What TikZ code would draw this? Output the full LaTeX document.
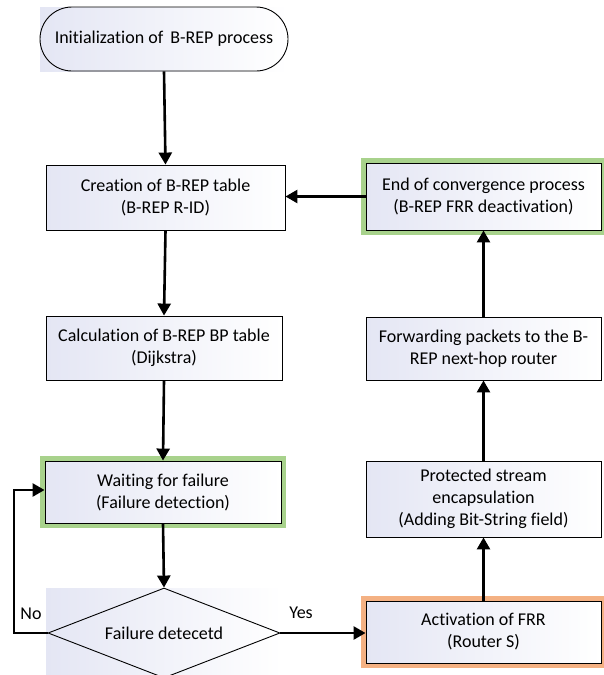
\documentclass[tikz,border=0pt]{standalone}
\usepackage{fontspec}
\setmainfont{Carlito}[Ligatures=NoCommon]
\usetikzlibrary{arrows.meta,shapes.geometric}

\definecolor{boxshade}{RGB}{228,230,244}
\definecolor{glowgreen}{RGB}{168,210,140}
\definecolor{gloworange}{RGB}{244,177,131}

\tikzset{
  txt/.style={font=\fontsize{18}{22}\selectfont, align=center, inner sep=0pt},
  outline/.style={txt, draw=black, line width=0.9pt},
  base/.style={outline, left color=boxshade, right color=white,
    minimum width=235pt, minimum height=64pt},
  greenbox/.style={base, preaction={draw=glowgreen, line width=10pt, rounded corners=3pt}},
  orangebox/.style={base, preaction={draw=gloworange, line width=10pt, rounded corners=3pt}},
  backdrop/.style={left color=boxshade, right color=white},
  flow/.style={line width=2.6pt, -{Triangle[length=12pt,width=13pt]}},
  lbl/.style={font=\fontsize{18}{22}\selectfont, inner sep=0pt}
}

\begin{document}
\begin{tikzpicture}[x=1pt, y=-1pt]
  \clip (0,0) rectangle (604,675);
  \fill[white] (0,0) rectangle (604,675);

  % start terminal: shaded backdrop, then the rounded outline
  \shade[backdrop] (40,7) rectangle (288,71);
  \node[outline, minimum width=248pt, minimum height=64pt,
        rounded corners=32pt] (start) at (164,39) {Initialization of\, B-REP process};

  \node[base, minimum width=239pt, minimum height=65pt] (create) at (165.5,197.5)
    {Creation of B-REP table\\(B-REP R-ID)};
  \node[base, minimum width=236pt] (calc) at (164,348)
    {Calculation of B-REP BP table\\(Dijkstra)};
  \node[greenbox, minimum width=236pt, minimum height=62pt] (wait) at (163,492)
    {Waiting for failure\\(Failure detection)};

  % decision: shaded backdrop, then the diamond outline
  \shade[backdrop] (46,588) rectangle (282,678);
  \node[outline, diamond, aspect=2.58,
        minimum width=232pt, minimum height=90pt] (decide) at (164,633) {Failure detecetd};

  \node[orangebox, minimum height=62pt] (act) at (483.5,632)
    {Activation of FRR\\(Router S)};
  \node[base, minimum height=76pt] (prot) at (483.5,499)
    {Protected stream\\encapsulation\\(Adding Bit-String field)};
  \node[base, minimum height=63pt] (fwd) at (483.5,348.5)
    {Forwarding packets to the B-\\REP next-hop router};
  \node[greenbox, minimum height=67pt] (endc) at (483.5,196.5)
    {End of convergence process\\(B-REP FRR deactivation)};

  % connectors
  \draw[flow] (start.south) -- (create.north);
  \draw[flow] (create.south) -- (calc.north);
  \draw[flow] (calc.south) -- (wait.north);
  \draw[flow] (wait.south) -- (decide.north);
  \coordinate (noturn) at (14,633);
  \coordinate (noup) at (14,490);
  \draw[flow] (decide.west) -- (noturn) -- (noup) -- (wait.west |- noup);
  \draw[flow] (decide.east) -- (act.west |- decide.east);
  \draw[flow] (act.north) -- (prot.south);
  \draw[flow] (prot.north) -- (fwd.south);
  \draw[flow] (fwd.north) -- (endc.south);
  \draw[flow] (endc.west) -- (create.east |- endc.west);

  \node[lbl] (no) at (31,614) {No};
  \node[lbl] (yes) at (301,613) {Yes};
\end{tikzpicture}
\end{document}
